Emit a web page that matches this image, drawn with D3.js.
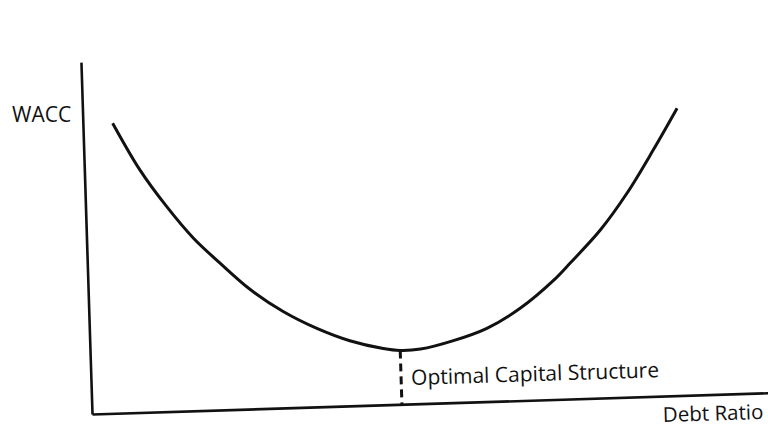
<!DOCTYPE html>
<html>
<head>
<meta charset="utf-8">
<script src="https://cdn.jsdelivr.net/npm/d3@7"></script>
<style>
  body { margin: 0; background: #fff; }
  svg text { font-family: "Open Sans", sans-serif; fill: #111; }
  .axis path { stroke: #111; stroke-width: 2.6; }
</style>
</head>
<body>
<div id="chart"></div>
<script>
// debt ratio (x) vs WACC (y), both 0..100
var debtRatio = [4.4, 8.2, 12.0, 15.8, 19.6, 23.9, 28.7, 33.6, 38.4, 43.3, 45.8, 48.8, 53.7, 58.7, 63.7, 68.8, 71.3, 75.9, 80.0, 84.1, 87.8];
var wacc      = [82.4, 68.9, 58.2, 49.0, 41.7, 34.0, 27.4, 22.3, 18.5, 16.0, 15.3, 15.5, 17.6, 20.8, 26.2, 33.9, 38.6, 47.7, 57.9, 70.0, 81.6];
var optimum = 45.8;
var labels = { y: "WACC", x: "Debt Ratio", optimum: "Optimal Capital Structure" };

var width = 768, height = 434;
var origin = [92, 414];
var tilt = -1.8; // scan is slightly rotated

var svg = d3.select("#chart")
  .append("svg")
  .attr("width", width)
  .attr("height", height);

var g = svg.append("g")
  .attr("transform", "translate(" + origin[0] + "," + origin[1] + ") rotate(" + tilt + ")");

var x = d3.scaleLinear().domain([0, 100]).range([0, 677]);
var y = d3.scaleLinear().domain([0, 100]).range([0, -352]);

/* axes: plain domain lines, no ticks */
g.append("g")
  .attr("class", "axis")
  .call(d3.axisBottom(x).tickValues([]).tickSizeOuter(0));

g.append("g")
  .attr("class", "axis")
  .call(d3.axisLeft(y).tickValues([]).tickSizeOuter(0));

var pts = debtRatio.map(function(d, i) { return [d, wacc[i]]; });

var line = d3.line()
  .x(function(d) { return x(d[0]); })
  .y(function(d) { return y(d[1]); })
  .curve(d3.curveCatmullRom.alpha(0.5));

g.append("path")
  .datum(pts)
  .attr("d", line)
  .attr("fill", "none")
  .attr("stroke", "#111")
  .attr("stroke-width", 3);

var minW = d3.min(wacc);
g.append("line")
  .attr("x1", x(optimum)).attr("x2", x(optimum))
  .attr("y1", y(minW)).attr("y2", y(0))
  .attr("stroke", "#111")
  .attr("stroke-width", 3)
  .attr("stroke-dasharray", "8,5");

g.append("text")
  .attr("x", x(optimum) + 10)
  .attr("y", -19)
  .attr("font-size", 21)
  .text(labels.optimum);

g.append("text")
  .attr("x", 671)
  .attr("y", 26)
  .attr("text-anchor", "end")
  .attr("font-size", 20.5)
  .text(labels.x);

svg.append("text")
  .attr("x", 12)
  .attr("y", 122)
  .attr("font-size", 21)
  .text(labels.y);
</script>
</body>
</html>
